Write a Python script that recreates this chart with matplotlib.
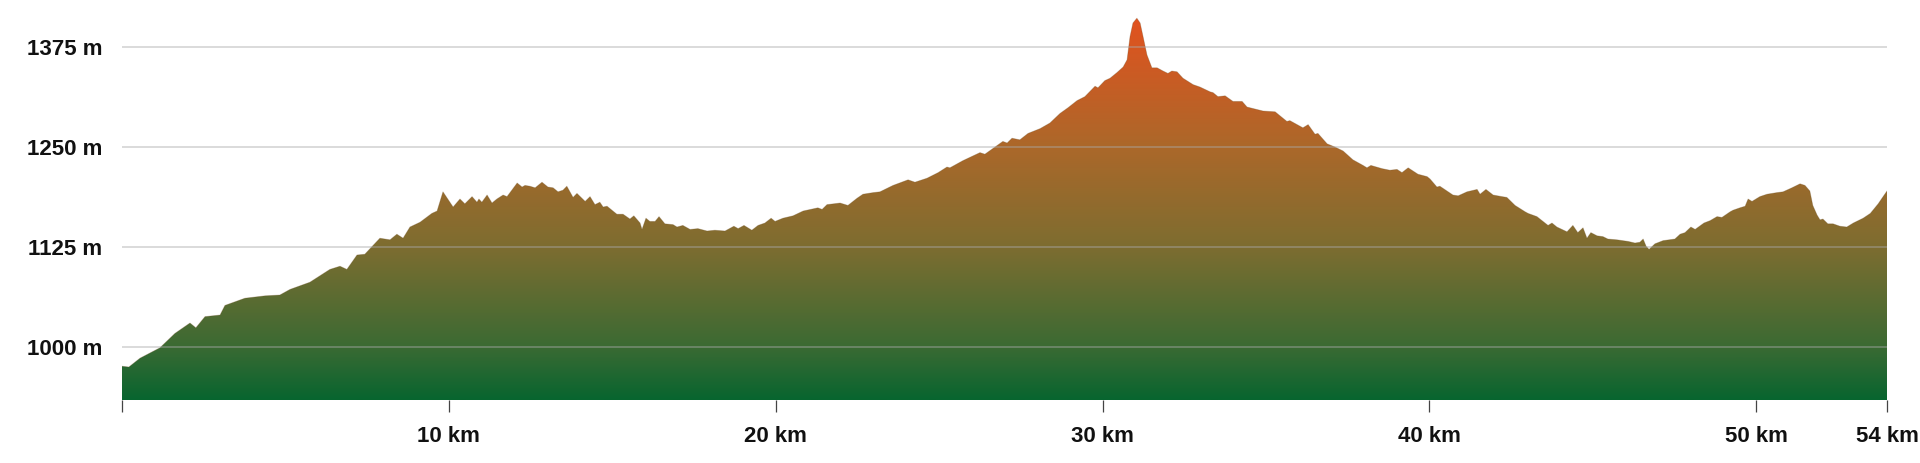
import numpy as np
import matplotlib
matplotlib.use("Agg")
import matplotlib.pyplot as plt
from matplotlib.colors import LinearSegmentedColormap

plt.rcParams['font.family'] = ['Liberation Sans', 'DejaVu Sans']
plt.rcParams['font.weight'] = 'bold'

# distance along the route (km) and elevation (m)
km = [0.00, 0.21, 0.55, 1.16, 1.62, 2.08, 2.26, 2.54, 3.00, 3.15, 3.76, 4.38, 4.83, 5.14,
      5.75, 6.36, 6.67, 6.88, 7.19, 7.43, 7.89, 8.20, 8.41, 8.60, 8.81, 9.12, 9.48, 9.64,
      9.82, 10.13, 10.34, 10.49, 10.71, 10.86, 10.92, 11.01, 11.17, 11.32, 11.47, 11.66,
      11.78, 12.09, 12.24, 12.33, 12.48, 12.64, 12.85, 13.03, 13.19, 13.34, 13.49, 13.61,
      13.80, 13.92, 14.17, 14.32, 14.47, 14.62, 14.72, 14.84, 15.14, 15.33, 15.54, 15.66,
      15.85, 15.91, 16.03, 16.15, 16.31, 16.43, 16.61, 16.86, 16.98, 17.16, 17.38, 17.62,
      17.90, 18.14, 18.45, 18.72, 18.85, 19.03, 19.27, 19.46, 19.67, 19.86, 19.98, 20.22,
      20.53, 20.84, 21.29, 21.42, 21.57, 21.97, 22.21, 22.49, 22.67, 22.98, 23.19, 23.59,
      24.05, 24.26, 24.63, 24.97, 25.24, 25.33, 25.73, 26.25, 26.40, 26.95, 27.08, 27.23,
      27.47, 27.72, 28.09, 28.39, 28.70, 28.94, 29.22, 29.46, 29.77, 29.86, 30.07, 30.23,
      30.44, 30.63, 30.75, 30.84, 30.93, 31.05, 31.15, 31.24, 31.36, 31.51, 31.67, 31.85,
      32.00, 32.12, 32.28, 32.46, 32.77, 32.98, 33.29, 33.38, 33.53, 33.75, 33.99, 34.27,
      34.42, 34.91, 35.28, 35.64, 35.73, 36.13, 36.29, 36.50, 36.59, 36.87, 37.11, 37.36,
      37.66, 37.97, 38.09, 38.21, 38.55, 38.79, 39.01, 39.16, 39.35, 39.65, 39.93, 40.02,
      40.23, 40.32, 40.72, 40.88, 41.15, 41.46, 41.55, 41.73, 41.95, 42.22, 42.37, 42.62,
      42.93, 43.02, 43.29, 43.63, 43.75, 43.90, 44.21, 44.39, 44.54, 44.70, 44.82, 44.94,
      45.13, 45.31, 45.46, 45.74, 46.08, 46.29, 46.44, 46.54, 46.63, 46.72, 46.90, 47.15,
      47.51, 47.67, 47.82, 48.00, 48.13, 48.40, 48.59, 48.80, 48.95, 49.20, 49.29, 49.50,
      49.66, 49.75, 49.87, 50.11, 50.33, 50.63, 50.82, 51.09, 51.34, 51.49, 51.64, 51.73,
      51.86, 51.95, 52.04, 52.19, 52.35, 52.56, 52.77, 52.97, 53.27, 53.49, 53.73, 53.88,
      54.00]
elev = [976, 975, 986, 999, 1017, 1030, 1024, 1038, 1040, 1052, 1061, 1064, 1065, 1072,
        1081, 1097, 1101, 1097, 1115, 1116, 1136, 1134, 1141, 1136, 1150, 1156, 1167, 1170,
        1194, 1175, 1185, 1179, 1188, 1181, 1185, 1181, 1190, 1180, 1185, 1190,
        1188, 1205, 1200, 1202, 1201, 1199, 1206, 1200, 1199, 1194, 1196, 1201,
        1187, 1192, 1182, 1188, 1178, 1181, 1175, 1176, 1166, 1166, 1160, 1164,
        1155, 1147, 1161, 1157, 1157, 1163, 1154, 1153, 1150, 1152, 1147, 1148,
        1145, 1146, 1145, 1151, 1148, 1152, 1146, 1152, 1155, 1161, 1157, 1161,
        1164, 1170, 1174, 1172, 1178, 1180, 1177, 1186, 1191, 1193, 1194, 1202,
        1209, 1206, 1211, 1218, 1225, 1224, 1233, 1243, 1241, 1257, 1255, 1261,
        1259, 1267, 1273, 1280, 1292, 1299, 1308, 1313, 1326, 1324, 1333, 1336,
        1343, 1350, 1359, 1388, 1405, 1411, 1405, 1388, 1365, 1349, 1349, 1345,
        1342, 1345, 1344, 1336, 1328, 1325, 1319, 1318, 1313, 1314, 1307, 1307,
        1300, 1295, 1294, 1282, 1283, 1274, 1278, 1266, 1267, 1254, 1250, 1245,
        1234, 1227, 1224, 1227, 1223, 1221, 1222, 1218, 1224, 1216, 1213, 1210,
        1200, 1201, 1190, 1189, 1194, 1197, 1191, 1197, 1190, 1188, 1187, 1177,
        1169, 1167, 1163, 1152, 1155, 1150, 1144, 1152, 1143, 1149, 1136, 1143,
        1139, 1138, 1135, 1134, 1132, 1130, 1131, 1135, 1126, 1122, 1129, 1133,
        1135, 1141, 1143, 1150, 1147, 1155, 1158, 1163, 1162, 1169, 1171, 1174,
        1176, 1185, 1182, 1188, 1191, 1193, 1194, 1199, 1204, 1202, 1195, 1177,
        1165, 1159, 1160, 1154, 1154, 1151, 1150, 1155, 1161, 1167, 1179, 1188,
        1195]

y_ticks = [1000, 1125, 1250, 1375]
y_labels = ['1000 m', '1125 m', '1250 m', '1375 m']
x_ticks = [0, 10, 20, 30, 40, 50, 54]
x_labels = ['', '10 km', '20 km', '30 km', '40 km', '50 km', '54 km']

y_bottom, y_top = 933.75, 1421.25

fig = plt.figure(figsize=(19.2, 4.63), dpi=100)
ax = fig.add_axes([122 / 1920, 1 - 400 / 463, 1765 / 1920, 390 / 463])

# gradient fill clipped to the profile
cmap = LinearSegmentedColormap.from_list('elev', [
    (0.00, '#08652f'),
    (0.14, '#3b6a33'),
    (0.40, '#7d6d30'),
    (0.66, '#ab682a'),
    (1.00, '#e2521f')])
grad = np.linspace(0, 1, 512).reshape(-1, 1)
poly = ax.fill_between(km, elev, y_bottom, color='none', lw=0)
img = ax.imshow(grad, cmap=cmap, origin='lower', aspect='auto',
                extent=[0, 54, y_bottom, max(elev)], zorder=1)
img.set_clip_path(poly.get_paths()[0], transform=ax.transData)
ax.plot(km, elev, color='#6b4a1e', lw=0.6, alpha=0.3, zorder=2)

for v in y_ticks:
    ax.axhline(v, color='#aaaaaa', lw=1.2, alpha=0.5, zorder=3)

ax.set_xlim(0, 54)
ax.set_ylim(y_bottom, y_top)
ax.set_yticks(y_ticks)
ax.set_yticklabels(y_labels)
ax.set_xticks(x_ticks)
ax.set_xticklabels(x_labels)
ax.tick_params(axis='y', length=0, pad=14, labelsize=16, labelcolor='#111111')
ax.tick_params(axis='x', length=8.5, width=0.9, color='#444444', pad=10,
               labelsize=16, labelcolor='#111111')
for s in ax.spines.values():
    s.set_visible(False)

fig.savefig('out.png', dpi=100)
